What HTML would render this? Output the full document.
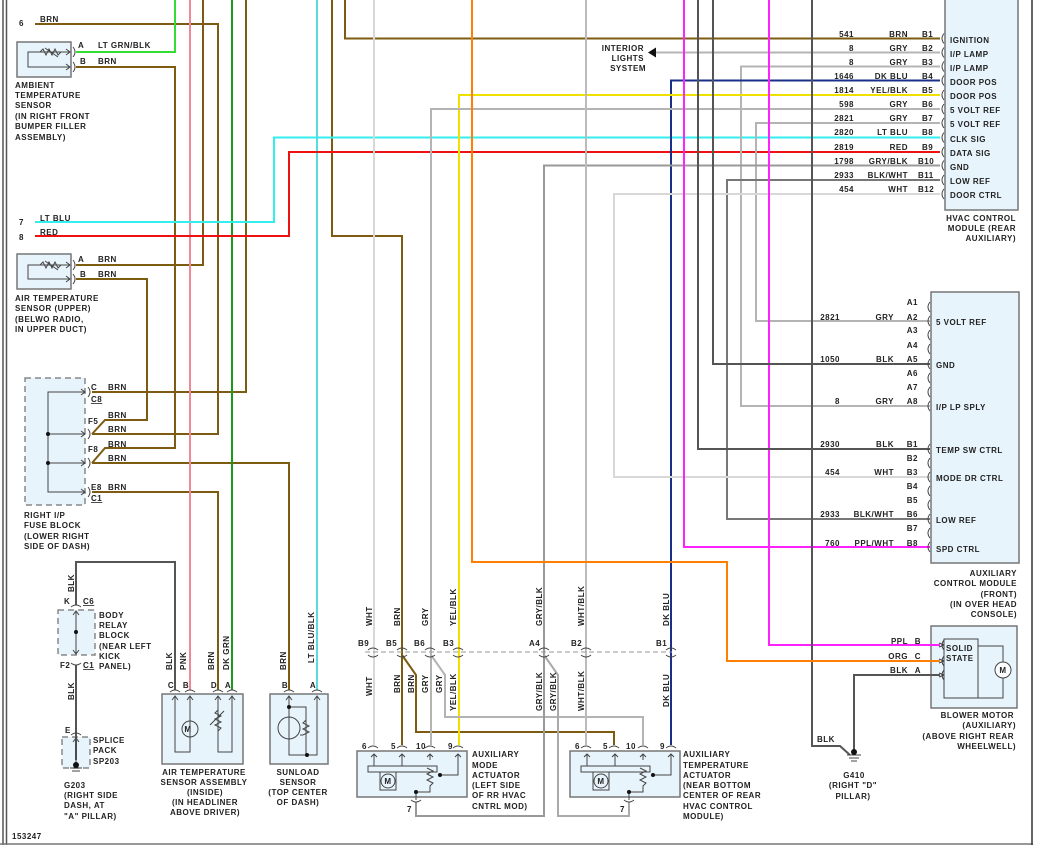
<!DOCTYPE html>
<html><head><meta charset="utf-8"><style>
html,body{margin:0;padding:0;background:#fff}
svg{display:block}
text{font-family:"Liberation Sans",sans-serif;font-size:8px;font-weight:bold;fill:#222;letter-spacing:.5px}
.w{fill:none;stroke-width:2}
.b{stroke:#7d5c12}.g{stroke:#b4b4b4}.lw{stroke:#d8d8d8}.dk{stroke:#555}
.bx{fill:#e8f4fc;stroke:#777;stroke-width:1.5}
.dbx{fill:#e8f4fc;stroke:#888;stroke-width:1.5;stroke-dasharray:6,4}
.c{fill:none;stroke:#444;stroke-width:1}
.r{text-anchor:end}
.m{text-anchor:middle}
</style></head><body>
<svg width="1047" height="853" viewBox="0 0 1047 853" xmlns="http://www.w3.org/2000/svg">
<!-- frame -->
<line x1="3" y1="0" x2="3" y2="845" stroke="#555" stroke-width="1.5"/>
<line x1="6.5" y1="0" x2="6.5" y2="845" stroke="#555" stroke-width="1.5"/>
<line x1="0" y1="844" x2="1033" y2="844" stroke="#777" stroke-width="1.5"/>
<line x1="1032" y1="0" x2="1032" y2="845" stroke="#333" stroke-width="1.5"/>

<!-- boxes -->
<rect x="945" y="-5" width="73" height="215" class="bx"/>
<rect x="931" y="292" width="88" height="271" class="bx"/>
<rect x="931" y="626" width="86" height="82" class="bx"/>
<rect x="17" y="42" width="54" height="35" class="bx"/>
<rect x="17" y="254" width="54" height="35" class="bx"/>
<rect x="25" y="378" width="60" height="127" class="dbx"/>
<rect x="58" y="610" width="37" height="45" class="dbx"/>
<rect x="62" y="737" width="28" height="31" class="dbx"/>
<rect x="162" y="694" width="81" height="70" class="bx"/>
<rect x="270" y="694" width="58" height="70" class="bx"/>
<rect x="357" y="751" width="110" height="46" class="bx"/>
<rect x="570" y="751" width="110" height="46" class="bx"/>

<!-- wires -->
<path class="w b" d="M35,24H218V434H92"/>
<path class="w b" d="M76,67H175V448H105L92,463"/>
<path class="w b" d="M76,265H203V0"/>
<path class="w b" d="M76,279H147V420H105L92,434"/>
<path class="w b" d="M92,392H246V0"/>
<path class="w b" d="M92,463H289V690"/>
<path class="w b" d="M92,492H218V690"/>
<path class="w b" d="M332,0V236H402V745"/>
<path class="w b" d="M402,655L416,675V732H614V745"/>
<path class="w b" d="M940,38.5H345V0"/>
<path class="w" stroke="#33dd33" d="M76,52H175V0"/>
<path class="w" stroke="#1a9a1a" d="M232,0V690"/>
<path class="w" stroke="#f08898" d="M190,0V690"/>
<path class="w" stroke="#33eeee" d="M35,222H274V137.5H940"/>
<path class="w" stroke="#55dddd" d="M317,0V690"/>
<path class="w" stroke="#ee1111" d="M35,236H289V152H940"/>
<path class="w g" d="M940,52.5H656"/>
<path d="M648,52.5L656,47.5V57.5Z" fill="#111"/>
<path class="w g" d="M940,66.5H741V406H930"/>
<path class="w" stroke="#1a2f8a" d="M940,80.5H671V745"/>
<path class="w" stroke="#f0e000" d="M940,95H459V745"/>
<path class="w g" d="M940,109H431V745"/>
<path class="w g" d="M431,655L445,675V717H643V745"/>
<path class="w g" d="M940,123H756V321H930"/>
<path class="w" stroke="#999" d="M940,165.5H544V816H416V802"/>
<path class="w" stroke="#aaa" d="M544,655L558,675V816H629V802"/>
<path class="w" stroke="#777" d="M940,180H727V519H930"/>
<path class="w lw" d="M940,194H614V477H930"/>
<path class="w lw" d="M374,0V745"/>
<path class="w" stroke="#bbb" d="M586,0V745"/>
<path class="w" stroke="#ff22ff" d="M684,0V547H930"/>
<path class="w" stroke="#ff22ff" d="M769,0V645H940"/>
<path class="w dk" d="M698,0V449H930"/>
<path class="w dk" d="M713,0V364H930"/>
<path class="w dk" d="M812,0V746H840L850,755"/>
<path class="w" stroke="#ff8000" d="M472,0V562H727V661H940"/>
<path class="w dk" d="M940,675H854V752"/>
<path class="w dk" d="M76,605V562H175V690"/>
<path class="w dk" d="M76,665V760"/>
<!-- dashed connector -->
<line x1="365" y1="652" x2="672" y2="652" stroke="#999" stroke-width="1" stroke-dasharray="5,3"/>

<!-- HVAC control module connector arcs -->
<g class="c">
<path d="M944,33.5q-4,5 0,10M944,47.5q-4,5 0,10M944,61.5q-4,5 0,10M944,75.5q-4,5 0,10M944,90q-4,5 0,10M944,104q-4,5 0,10M944,118q-4,5 0,10M944,132.5q-4,5 0,10M944,147q-4,5 0,10M944,160.5q-4,5 0,10M944,175q-4,5 0,10M944,189q-4,5 0,10"/>
<path d="M930,302q-4,5 0,10M930,316q-4,5 0,10M930,330q-4,5 0,10M930,344q-4,5 0,10M930,359q-4,5 0,10M930,373q-4,5 0,10M930,387q-4,5 0,10M930,401q-4,5 0,10M930,444q-4,5 0,10M930,458q-4,5 0,10M930,472q-4,5 0,10M930,486q-4,5 0,10M930,500q-4,5 0,10M930,514q-4,5 0,10M930,528q-4,5 0,10M930,542q-4,5 0,10"/>
<path d="M944,640q-4,5 0,10M944,656q-4,5 0,10M944,670q-4,5 0,10"/>
<path d="M73,47q4,5 0,10M73,62q4,5 0,10M73,260q4,5 0,10M73,274q4,5 0,10M88,387q4,5 0,10M88,429q4,5 0,10M88,458q4,5 0,10M88,487q4,5 0,10"/>
</g>
<!-- pin arcs top/bottom -->
<g class="c">
<path d="M368,650q5,-4 10,0M368,655q5,4 10,0M397,650q5,-4 10,0M397,655q5,4 10,0M425,650q5,-4 10,0M425,655q5,4 10,0M453,650q5,-4 10,0M453,655q5,4 10,0M539,650q5,-4 10,0M539,655q5,4 10,0M581,650q5,-4 10,0M581,655q5,4 10,0M666,650q5,-4 10,0M666,655q5,4 10,0"/>
<path d="M368,748q5,-4 10,0M397,748q5,-4 10,0M425,748q5,-4 10,0M453,748q5,-4 10,0M581,748q5,-4 10,0M609,748q5,-4 10,0M638,748q5,-4 10,0M666,748q5,-4 10,0"/>
<path d="M411,800q5,4 10,0M624,800q5,4 10,0"/>
<path d="M170,692q5,-4 10,0M185,692q5,-4 10,0M213,692q5,-4 10,0M227,692q5,-4 10,0M284,692q5,-4 10,0M312,692q5,-4 10,0"/>
<path d="M71,607q5,-4 10,0M71,663q5,4 10,0M71,735q5,-4 10,0"/>
</g>
<!-- internal symbols -->
<g fill="none" stroke="#444" stroke-width="1">
<path d="M70,52H28V67H70M40,52l3,-3l3,6l3,-6l3,6l3,-6l3,6l3,-3M45,48l13,9M66,49l4,3l-4,3M66,64l4,3l-4,3"/>
<path d="M70,265H28V279H70M40,265l3,-3l3,6l3,-6l3,6l3,-6l3,6l3,-3M45,261l13,9M66,262l4,3l-4,3M66,276l4,3l-4,3"/>
<path d="M85,392H48V492H85M48,434H85M48,463H85M81,389l4,3l-4,3M81,431l4,3l-4,3M81,460l4,3l-4,3M81,489l4,3l-4,3"/>
<path d="M76,612V653M73,615l3,-4l3,4M73,650l3,4l3,-4M76,740V765M73,742l3,-4l3,4"/>
<path d="M175,697V752H190V697M218,697V752H232V697M172,700l3,-4l3,4M187,700l3,-4l3,4M215,700l3,-4l3,4M229,700l3,-4l3,4M218,710l-3,3l6,3l-6,3l6,3l-6,3l6,3l-3,3M210,725l14,-14"/>
<circle cx="190" cy="729" r="8"/>
<path d="M289,697V755H317V697M286,700l3,-4l3,4M314,700l3,-4l3,4M289,707H306V755M306,720l-3,3l6,3l-6,3l6,3l-6,3l-3,0"/>
<circle cx="289" cy="728" r="11"/>
<path d="M374,754V766M402,754V766M368,766H437V772H368ZM380,772V790H396V772M430,754V760M427,768l6,3l-6,3l6,3l-6,3l6,3l-3,3V792H416M458,754V775H440M416,790V800M371,757l3,-3l3,3M399,757l3,-3l3,3M427,757l3,-3l3,3M455,757l3,-3l3,3"/>
<circle cx="388" cy="781" r="7"/>
<path d="M587,754V766M615,754V766M581,766H650V772H581ZM593,772V790H609V772M643,754V760M640,768l6,3l-6,3l6,3l-6,3l6,3l-3,3V792H629M671,754V775H653M629,790V800M584,757l3,-3l3,3M612,757l3,-3l3,3M640,757l3,-3l3,3M668,757l3,-3l3,3"/>
<circle cx="601" cy="781" r="7"/>
<rect x="944" y="639" width="34" height="59"/>
<path d="M978,646H1003V698H978M944,645l-5,-2M944,645l-5,2M944,661l-5,-2M944,661l-5,2M944,675l-5,-2M944,675l-5,2"/>
<circle cx="1003" cy="670" r="8" fill="#fff"/>
<path d="M847,755H861M849,758H859M851,761H857M70,768H82M72,771H80"/>
</g>
<g fill="#111"><circle cx="48" cy="434" r="2"/><circle cx="48" cy="463" r="2"/><circle cx="76" cy="632" r="2"/><circle cx="76" cy="765" r="3"/><circle cx="854" cy="752" r="3"/><circle cx="289" cy="707" r="2"/><circle cx="307" cy="755" r="2"/><circle cx="416" cy="792" r="2"/><circle cx="440" cy="775" r="2"/><circle cx="629" cy="792" r="2"/><circle cx="653" cy="775" r="2"/></g>
<g style="font-size:7px"><text x="188" y="732" class="m">M</text><text x="388" y="784" class="m">M</text><text x="601" y="784" class="m">M</text><text x="1003" y="673" class="m">M</text></g>

<!-- HVAC labels -->
<g>
<text x="854" y="37" class="r">541</text><text x="908" y="37" class="r">BRN</text><text x="922" y="37">B1</text><text x="950" y="43">IGNITION</text>
<text x="854" y="51" class="r">8</text><text x="908" y="51" class="r">GRY</text><text x="922" y="51">B2</text><text x="950" y="57">I/P LAMP</text>
<text x="854" y="65" class="r">8</text><text x="908" y="65" class="r">GRY</text><text x="922" y="65">B3</text><text x="950" y="71">I/P LAMP</text>
<text x="854" y="79" class="r">1646</text><text x="908" y="79" class="r">DK BLU</text><text x="922" y="79">B4</text><text x="950" y="85">DOOR POS</text>
<text x="854" y="93" class="r">1814</text><text x="908" y="93" class="r">YEL/BLK</text><text x="922" y="93">B5</text><text x="950" y="99">DOOR POS</text>
<text x="854" y="107" class="r">598</text><text x="908" y="107" class="r">GRY</text><text x="922" y="107">B6</text><text x="950" y="113">5 VOLT REF</text>
<text x="854" y="121" class="r">2821</text><text x="908" y="121" class="r">GRY</text><text x="922" y="121">B7</text><text x="950" y="127">5 VOLT REF</text>
<text x="854" y="135" class="r">2820</text><text x="908" y="135" class="r">LT BLU</text><text x="922" y="135">B8</text><text x="950" y="142">CLK SIG</text>
<text x="854" y="150" class="r">2819</text><text x="908" y="150" class="r">RED</text><text x="922" y="150">B9</text><text x="950" y="156">DATA SIG</text>
<text x="854" y="164" class="r">1798</text><text x="908" y="164" class="r">GRY/BLK</text><text x="918" y="164">B10</text><text x="950" y="170">GND</text>
<text x="854" y="178" class="r">2933</text><text x="908" y="178" class="r">BLK/WHT</text><text x="918" y="178">B11</text><text x="950" y="184">LOW REF</text>
<text x="854" y="192" class="r">454</text><text x="908" y="192" class="r">WHT</text><text x="918" y="192">B12</text><text x="950" y="198">DOOR CTRL</text>
<text x="1016" y="221" class="r">HVAC CONTROL</text><text x="1016" y="231" class="r">MODULE (REAR</text><text x="1016" y="241" class="r">AUXILIARY)</text>
<text x="644" y="51" class="r">INTERIOR</text><text x="644" y="61" class="r">LIGHTS</text><text x="646" y="71" class="r">SYSTEM</text>
</g>
<!-- Aux control labels -->
<g>
<text x="918" y="305" class="r">A1</text>
<text x="840" y="320" class="r">2821</text><text x="894" y="320" class="r">GRY</text><text x="918" y="320" class="r">A2</text><text x="936" y="325">5 VOLT REF</text>
<text x="918" y="333" class="r">A3</text><text x="918" y="348" class="r">A4</text>
<text x="840" y="362" class="r">1050</text><text x="894" y="362" class="r">BLK</text><text x="918" y="362" class="r">A5</text><text x="936" y="368">GND</text>
<text x="918" y="376" class="r">A6</text><text x="918" y="390" class="r">A7</text>
<text x="840" y="404" class="r">8</text><text x="894" y="404" class="r">GRY</text><text x="918" y="404" class="r">A8</text><text x="936" y="410">I/P LP SPLY</text>
<text x="840" y="447" class="r">2930</text><text x="894" y="447" class="r">BLK</text><text x="918" y="447" class="r">B1</text><text x="936" y="453">TEMP SW CTRL</text>
<text x="918" y="461" class="r">B2</text>
<text x="840" y="475" class="r">454</text><text x="894" y="475" class="r">WHT</text><text x="918" y="475" class="r">B3</text><text x="936" y="481">MODE DR CTRL</text>
<text x="918" y="489" class="r">B4</text><text x="918" y="503" class="r">B5</text>
<text x="840" y="517" class="r">2933</text><text x="894" y="517" class="r">BLK/WHT</text><text x="918" y="517" class="r">B6</text><text x="936" y="523">LOW REF</text>
<text x="918" y="531" class="r">B7</text>
<text x="840" y="546" class="r">760</text><text x="894" y="546" class="r">PPL/WHT</text><text x="918" y="546" class="r">B8</text><text x="936" y="552">SPD CTRL</text>
<text x="1017" y="576" class="r">AUXILIARY</text><text x="1017" y="586" class="r">CONTROL MODULE</text><text x="1017" y="597" class="r">(FRONT)</text><text x="1017" y="607" class="r">(IN OVER HEAD</text><text x="1017" y="617" class="r">CONSOLE)</text>
</g>
<!-- Blower -->
<g>
<text x="908" y="644" class="r">PPL</text><text x="921" y="644" class="r">B</text>
<text x="908" y="659" class="r">ORG</text><text x="921" y="659" class="r">C</text>
<text x="908" y="673" class="r">BLK</text><text x="921" y="673" class="r">A</text>
<text x="946" y="651">SOLID</text><text x="946" y="661">STATE</text>
<text x="1014" y="718" class="r">BLOWER MOTOR</text><text x="1016" y="728" class="r">(AUXILIARY)</text><text x="1014" y="739" class="r">(ABOVE RIGHT REAR</text><text x="1016" y="749" class="r">WHEELWELL)</text>
<text x="817" y="742">BLK</text>
<text x="854" y="778" class="m">G410</text><text x="853" y="788" class="m">(RIGHT "D"</text><text x="853" y="799" class="m">PILLAR)</text>
</g>
<!-- left labels -->
<g>
<text x="19" y="26">6</text><text x="40" y="22">BRN</text>
<text x="78" y="48">A</text><text x="98" y="48">LT GRN/BLK</text>
<text x="80" y="64">B</text><text x="98" y="64">BRN</text>
<text x="15" y="88">AMBIENT</text><text x="15" y="98">TEMPERATURE</text><text x="15" y="108">SENSOR</text><text x="15" y="119">(IN RIGHT FRONT</text><text x="15" y="129">BUMPER FILLER</text><text x="15" y="140">ASSEMBLY)</text>
<text x="19" y="225">7</text><text x="40" y="221">LT BLU</text>
<text x="19" y="240">8</text><text x="40" y="235">RED</text>
<text x="78" y="262">A</text><text x="98" y="262">BRN</text>
<text x="80" y="277">B</text><text x="98" y="277">BRN</text>
<text x="15" y="301">AIR TEMPERATURE</text><text x="15" y="311">SENSOR (UPPER)</text><text x="15" y="322">(BELWO RADIO,</text><text x="15" y="332">IN UPPER DUCT)</text>
<text x="91" y="390">C</text><text x="108" y="390">BRN</text><text x="91" y="402" text-decoration="underline">C8</text>
<text x="88" y="424">F5</text><text x="108" y="418">BRN</text><text x="108" y="432">BRN</text>
<text x="88" y="452">F8</text><text x="108" y="447">BRN</text><text x="108" y="461">BRN</text>
<text x="91" y="490">E8</text><text x="108" y="490">BRN</text><text x="91" y="501" text-decoration="underline">C1</text>
<text x="24" y="518">RIGHT I/P</text><text x="24" y="528">FUSE BLOCK</text><text x="24" y="539">(LOWER RIGHT</text><text x="24" y="549">SIDE OF DASH)</text>
<text x="64" y="604">K</text><text x="83" y="604" text-decoration="underline">C6</text>
<text x="60" y="668">F2</text><text x="83" y="668" text-decoration="underline">C1</text>
<text x="99" y="618">BODY</text><text x="99" y="628">RELAY</text><text x="99" y="638">BLOCK</text><text x="99" y="649">(NEAR LEFT</text><text x="99" y="659">KICK</text><text x="99" y="669">PANEL)</text>
<text x="65" y="733">E</text>
<text x="93" y="743">SPLICE</text><text x="93" y="753">PACK</text><text x="93" y="764">SP203</text>
<text x="64" y="788">G203</text><text x="64" y="798">(RIGHT SIDE</text><text x="64" y="808">DASH, AT</text><text x="64" y="819">"A" PILLAR)</text>
<text x="12" y="839">153247</text>
<text x="204" y="775" class="m">AIR TEMPERATURE</text><text x="204" y="785" class="m">SENSOR ASSEMBLY</text><text x="205" y="795" class="m">(INSIDE)</text><text x="205" y="805" class="m">(IN HEADLINER</text><text x="205" y="815" class="m">ABOVE DRIVER)</text>
<text x="298" y="775" class="m">SUNLOAD</text><text x="298" y="785" class="m">SENSOR</text><text x="298" y="795" class="m">(TOP CENTER</text><text x="298" y="805" class="m">OF DASH)</text>
<text x="472" y="757">AUXILIARY</text><text x="472" y="768">MODE</text><text x="472" y="778">ACTUATOR</text><text x="472" y="788">(LEFT SIDE</text><text x="472" y="798">OF RR HVAC</text><text x="472" y="809">CNTRL MOD)</text>
<text x="683" y="757">AUXILIARY</text><text x="683" y="768">TEMPERATURE</text><text x="683" y="778">ACTUATOR</text><text x="683" y="788">(NEAR BOTTOM</text><text x="683" y="798">CENTER OF REAR</text><text x="683" y="809">HVAC CONTROL</text><text x="683" y="819">MODULE)</text>
<!-- connector pin labels -->
<text x="358" y="646">B9</text><text x="386" y="646">B5</text><text x="414" y="646">B6</text><text x="443" y="646">B3</text><text x="529" y="646">A4</text><text x="571" y="646">B2</text><text x="656" y="646">B1</text>
<text x="362" y="749">6</text><text x="391" y="749">5</text><text x="416" y="749">10</text><text x="448" y="749">9</text>
<text x="575" y="749">6</text><text x="603" y="749">5</text><text x="626" y="749">10</text><text x="660" y="749">9</text>
<text x="407" y="812">7</text><text x="620" y="812">7</text>
<text x="171" y="688" class="m">C</text><text x="186" y="688" class="m">B</text><text x="214" y="688" class="m">D</text><text x="228" y="688" class="m">A</text><text x="285" y="688" class="m">B</text><text x="313" y="688" class="m">A</text>
</g>
<!-- rotated wire labels -->
<g>
<text transform="translate(74,592) rotate(-90)">BLK</text>
<text transform="translate(74,700) rotate(-90)">BLK</text>
<text transform="translate(172,670) rotate(-90)">BLK</text>
<text transform="translate(186,670) rotate(-90)">PNK</text>
<text transform="translate(214,670) rotate(-90)">BRN</text>
<text transform="translate(229,670) rotate(-90)">DK GRN</text>
<text transform="translate(286,670) rotate(-90)">BRN</text>
<text transform="translate(314,663) rotate(-90)">LT BLU/BLK</text>
<text transform="translate(372,626) rotate(-90)">WHT</text>
<text transform="translate(400,626) rotate(-90)">BRN</text>
<text transform="translate(428,626) rotate(-90)">GRY</text>
<text transform="translate(456,626) rotate(-90)">YEL/BLK</text>
<text transform="translate(542,626) rotate(-90)">GRY/BLK</text>
<text transform="translate(584,626) rotate(-90)">WHT/BLK</text>
<text transform="translate(669,626) rotate(-90)">DK BLU</text>
<text transform="translate(372,696) rotate(-90)">WHT</text>
<text transform="translate(400,693) rotate(-90)">BRN</text>
<text transform="translate(414,693) rotate(-90)">BRN</text>
<text transform="translate(428,693) rotate(-90)">GRY</text>
<text transform="translate(442,693) rotate(-90)">GRY</text>
<text transform="translate(456,711) rotate(-90)">YEL/BLK</text>
<text transform="translate(542,711) rotate(-90)">GRY/BLK</text>
<text transform="translate(556,711) rotate(-90)">GRY/BLK</text>
<text transform="translate(584,711) rotate(-90)">WHT/BLK</text>
<text transform="translate(669,707) rotate(-90)">DK BLU</text>
</g>
</svg>
</body></html>
